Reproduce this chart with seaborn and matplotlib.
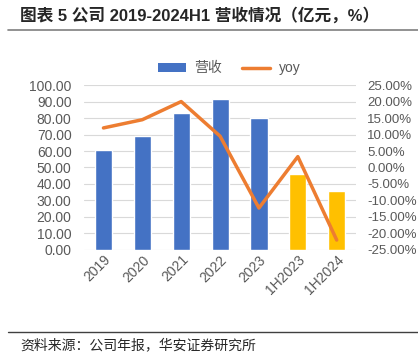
import numpy as np
import pandas as pd
import matplotlib
matplotlib.use("Agg")
import matplotlib.pyplot as plt
import seaborn as sns
from matplotlib.lines import Line2D
from matplotlib.patches import Patch
from matplotlib.ticker import FuncFormatter

# Data
periods = ["2019", "2020", "2021", "2022", "2023", "1H2023", "1H2024"]
revenue = [60.7, 69.4, 83.0, 91.3, 80.0, 45.8, 36.0]
yoy = [12.0, 14.5, 20.0, 9.5, -12.3, 3.3, -22.0]
kind = ["annual", "annual", "annual", "annual", "annual", "half", "half"]

blue = "#4472C4"
orange = "#ED7D31"
yellow = "#FFC000"
tick_color = "#595959"

sns.set_theme(style="white")
plt.rcParams["font.family"] = ["Liberation Sans", "Noto Sans CJK SC", "DejaVu Sans"]

df = pd.DataFrame({"period": periods, "revenue": revenue, "yoy": yoy, "kind": kind})

fig = plt.figure(figsize=(4.18, 3.53), dpi=100)
ax = fig.add_axes([0.201, 0.292, 0.651, 0.467])

sns.barplot(data=df, x="period", y="revenue", hue="kind",
            palette={"annual": blue, "half": yellow}, dodge=False, saturation=1,
            width=0.44, legend=False, ax=ax)
ax.set_xlim(-0.5, 6.5)
ax.set_ylim(0, 100)
ax.set_yticks(np.arange(0, 101, 10))
ax.yaxis.set_major_formatter(FuncFormatter(lambda v, p: f"{v:.2f}"))
ax.grid(axis="y", color="#D9D9D9", linewidth=0.8)
ax.set_axisbelow(True)
for s in ax.spines.values():
    s.set_visible(False)
ax.set_xlabel("")
ax.set_ylabel("")
ax.tick_params(axis="y", length=0, labelsize=10, colors=tick_color, pad=9)
ax.tick_params(axis="x", length=0, labelsize=10, colors=tick_color, pad=2)
for lab in ax.get_xticklabels():
    lab.set_rotation(45)
    lab.set_ha("right")
    lab.set_rotation_mode("anchor")

ax2 = ax.twinx()
sns.lineplot(x=np.arange(len(periods)), y=yoy, color=orange, linewidth=2.5, ax=ax2)
ax2.set_ylim(-25, 25)
ax2.set_yticks(np.arange(-25, 26, 5))
ax2.yaxis.set_major_formatter(FuncFormatter(lambda v, p: f"{v:.2f}%"))
for s in ax2.spines.values():
    s.set_visible(False)
ax2.tick_params(axis="y", length=0, labelsize=9.5, colors=tick_color, pad=8)
ax2.grid(False)

handles = [Patch(facecolor=blue, edgecolor="none"),
           Line2D([0], [0], color=orange, linewidth=2.5)]
fig.legend(handles, ["营收", "yoy"], loc="center", bbox_to_anchor=(0.548, 0.806),
           ncol=2, frameon=False, fontsize=10, handlelength=2.0, handleheight=0.6,
           handletextpad=0.6, columnspacing=1.5, labelcolor=tick_color)

fig.text(0.048, 0.957, "图表 5 公司 2019-2024H1 营收情况（亿元，%）",
         fontsize=12, fontweight="bold", va="center", ha="left")
fig.add_artist(Line2D([0.02, 1.0], [0.915, 0.915], color="#7F7F7F", linewidth=1.2))
fig.add_artist(Line2D([0.02, 1.0], [0.06, 0.06], color="#404040", linewidth=1.0))
fig.text(0.048, 0.023, "资料来源：公司年报，华安证券研究所", fontsize=10, va="center", ha="left")

fig.savefig("out.png", dpi=100)
